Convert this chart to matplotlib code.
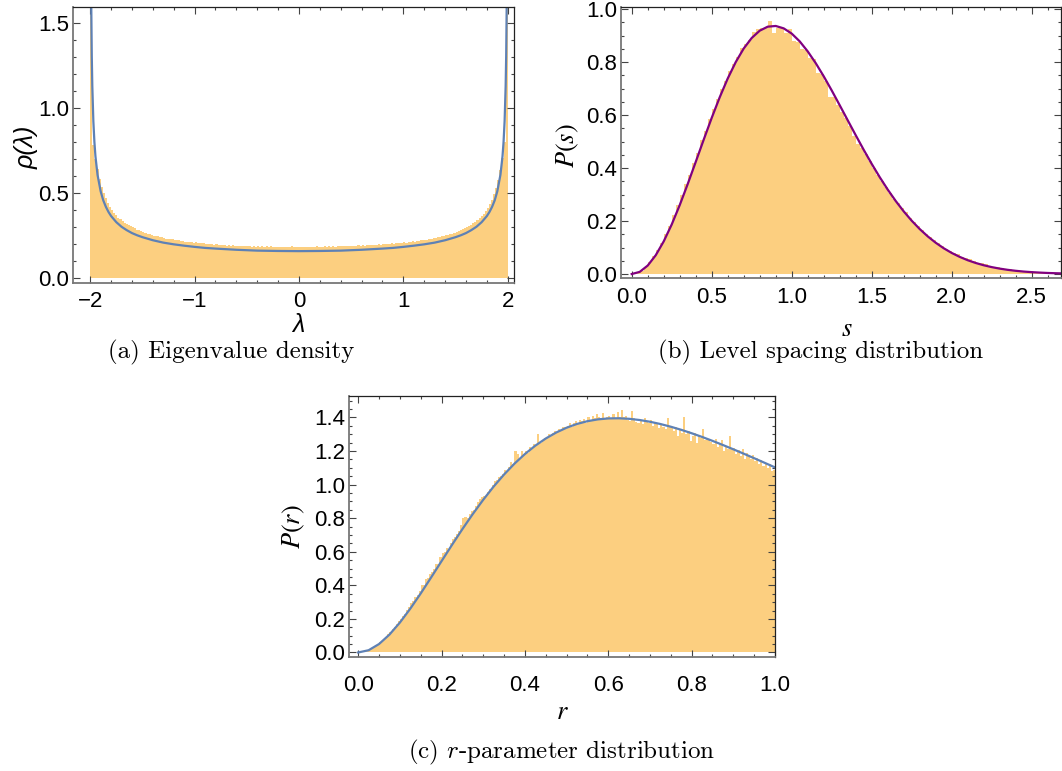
import numpy as np
import matplotlib.pyplot as plt
from matplotlib.ticker import MultipleLocator

plt.rcParams['font.family'] = ['Liberation Sans Narrow', 'Liberation Sans', 'DejaVu Sans']

# ── (a) eigenvalue density: histogram (bins of 0.02 on [-2, 2]) + theory curve
a_hist = [
    1.70, 0.78, 0.70, 0.64, 0.58, 0.535, 0.50, 0.468, 0.440, 0.420,
    0.400, 0.382, 0.372, 0.355, 0.350, 0.336, 0.325, 0.320, 0.310, 0.305,
    0.298, 0.292, 0.285, 0.282, 0.275, 0.272, 0.268, 0.262, 0.258, 0.256,
    0.250, 0.248, 0.246, 0.240, 0.242, 0.236, 0.233, 0.232, 0.228, 0.229,
    0.225, 0.222, 0.224, 0.218, 0.219, 0.215, 0.214, 0.212, 0.213, 0.209,
    0.210, 0.206, 0.208, 0.204, 0.205, 0.201, 0.203, 0.199, 0.200, 0.197,
    0.199, 0.195, 0.197, 0.194, 0.196, 0.192, 0.194, 0.191, 0.193, 0.190,
    0.192, 0.189, 0.191, 0.188, 0.190, 0.187, 0.190, 0.186, 0.189, 0.186,
    0.188, 0.185, 0.188, 0.185, 0.187, 0.184, 0.187, 0.184, 0.186, 0.184,
    0.186, 0.183, 0.186, 0.183, 0.185, 0.183, 0.190, 0.184, 0.186, 0.183,
    0.185, 0.183, 0.186, 0.184, 0.185, 0.183, 0.186, 0.184, 0.187, 0.184,
    0.186, 0.185, 0.187, 0.185, 0.188, 0.185, 0.188, 0.186, 0.189, 0.187,
    0.189, 0.187, 0.190, 0.188, 0.191, 0.189, 0.192, 0.190, 0.193, 0.191,
    0.194, 0.192, 0.195, 0.193, 0.196, 0.194, 0.197, 0.196, 0.199, 0.197,
    0.200, 0.199, 0.202, 0.200, 0.204, 0.202, 0.206, 0.205, 0.208, 0.207,
    0.210, 0.209, 0.213, 0.212, 0.216, 0.215, 0.219, 0.218, 0.223, 0.222,
    0.227, 0.226, 0.231, 0.230, 0.236, 0.235, 0.241, 0.240, 0.246, 0.247,
    0.252, 0.255, 0.259, 0.262, 0.268, 0.272, 0.278, 0.281, 0.288, 0.293,
    0.300, 0.306, 0.315, 0.322, 0.332, 0.342, 0.352, 0.365, 0.378, 0.395,
    0.412, 0.435, 0.460, 0.492, 0.528, 0.575, 0.635, 0.705, 0.800, 1.700,
]
lam_curve = [-1.999, -1.998, -1.995, -1.99, -1.985, -1.98, -1.97, -1.96, -1.95,
             -1.93, -1.9, -1.875, -1.85, -1.825, -1.8, -1.75, -1.7, -1.65, -1.6,
             -1.55, -1.5, -1.4, -1.3, -1.2, -1.1, -1.0, -0.9, -0.8, -0.6, -0.4,
             -0.2, 0.0, 0.2, 0.4, 0.6, 0.8, 0.9, 1.0, 1.1, 1.2, 1.3, 1.4, 1.5,
             1.55, 1.6, 1.65, 1.7, 1.75, 1.8, 1.825, 1.85, 1.875, 1.9, 1.93,
             1.95, 1.96, 1.97, 1.98, 1.985, 1.99, 1.995, 1.998, 1.999]
rho_curve = [5.03, 3.56, 2.252, 1.594, 1.302, 1.128, 0.922, 0.800, 0.716,
             0.607, 0.510, 0.457, 0.419, 0.389, 0.365, 0.329, 0.302, 0.282, 0.265,
             0.252, 0.241, 0.223, 0.209, 0.199, 0.191, 0.184, 0.178, 0.174, 0.167, 0.162,
             0.160, 0.159, 0.160, 0.162, 0.167, 0.174, 0.178, 0.184, 0.191, 0.199,
             0.209, 0.223, 0.241,
             0.252, 0.265, 0.282, 0.302, 0.329, 0.365, 0.389, 0.419, 0.457, 0.510, 0.607,
             0.716, 0.800, 0.922, 1.128, 1.302, 1.594, 2.252, 3.56, 5.03]

# ── (b) level spacing: histogram (bins of 0.025 on [0, 2.7]) + Wigner curve
b_hist = [
    0.001, 0.004, 0.012, 0.027, 0.045, 0.068, 0.092, 0.118, 0.150, 0.182,
    0.222, 0.260, 0.297, 0.338, 0.372, 0.421, 0.458, 0.505, 0.540, 0.585,
    0.622, 0.660, 0.700, 0.728, 0.765, 0.792, 0.820, 0.852, 0.868, 0.882,
    0.912, 0.925, 0.928, 0.930, 0.955, 0.910, 0.928, 0.928, 0.910, 0.925,
    0.878, 0.876, 0.848, 0.846, 0.815, 0.812, 0.758, 0.756, 0.727, 0.670,
    0.668, 0.638, 0.612, 0.590, 0.558, 0.520, 0.492, 0.475, 0.452, 0.428,
    0.400, 0.372, 0.350, 0.330, 0.306, 0.285, 0.268, 0.250, 0.233, 0.212,
    0.196, 0.180, 0.168, 0.150, 0.140, 0.128, 0.116, 0.104, 0.095, 0.088,
    0.080, 0.075, 0.066, 0.060, 0.055, 0.048, 0.043, 0.040, 0.036, 0.031,
    0.028, 0.025, 0.022, 0.020, 0.018, 0.015, 0.013, 0.012, 0.011, 0.009,
    0.008, 0.007, 0.006, 0.005, 0.005, 0.004, 0.004, 0.003,
]
s_curve = [0.0, 0.05, 0.1, 0.15, 0.2, 0.25, 0.3, 0.35, 0.4, 0.45, 0.5, 0.55,
           0.6, 0.65, 0.7, 0.75, 0.8, 0.85, 0.9, 0.95, 1.0, 1.05, 1.1, 1.15,
           1.2, 1.25, 1.3, 1.35, 1.4, 1.45, 1.5, 1.55, 1.6, 1.65, 1.7, 1.75,
           1.8, 1.85, 1.9, 1.95, 2.0, 2.05, 2.1, 2.15, 2.2, 2.25, 2.3, 2.35,
           2.4, 2.45, 2.5, 2.55, 2.6, 2.65, 2.7]
ps_curve = [0.0, 0.0081, 0.0320, 0.0709, 0.1233, 0.1871, 0.2602, 0.3398,
            0.4232, 0.5074, 0.5896, 0.6673, 0.7381, 0.8000, 0.8514, 0.8911,
            0.9186, 0.9337, 0.9364, 0.9273, 0.9076, 0.8782, 0.8404, 0.7961,
            0.7464, 0.6930, 0.6371, 0.5804, 0.5240, 0.4688, 0.4158, 0.3656,
            0.3188, 0.2757, 0.2365, 0.2012, 0.1698, 0.1422, 0.1181, 0.0973,
            0.0796, 0.0647, 0.0521, 0.0417, 0.0331, 0.0261, 0.0204, 0.0158,
            0.0122, 0.0093, 0.0071, 0.0054, 0.0040, 0.0030, 0.0022]

# ── (c) r-parameter: histogram (bins of 0.005 on [0, 1]) + theory curve
c_hist = [
    0.000, 0.002, 0.004, 0.008, 0.012, 0.018, 0.025, 0.033, 0.042, 0.052,
    0.060, 0.070, 0.083, 0.093, 0.108, 0.121, 0.138, 0.150, 0.170, 0.185,
    0.198, 0.216, 0.232, 0.255, 0.270, 0.292, 0.306, 0.330, 0.345, 0.365,
    0.400, 0.402, 0.438, 0.445, 0.470, 0.478, 0.500, 0.525, 0.530, 0.568,
    0.592, 0.598, 0.620, 0.612, 0.652, 0.675, 0.690, 0.708, 0.722, 0.760,
    0.800, 0.805, 0.800, 0.822, 0.840, 0.848, 0.875, 0.895, 0.915, 0.925,
    0.930, 0.935, 0.958, 0.975, 1.000, 1.020, 1.025, 1.048, 1.050, 1.065,
    1.085, 1.080, 1.105, 1.135, 1.120, 1.200, 1.185, 1.160, 1.200, 1.185,
    1.200, 1.190, 1.225, 1.212, 1.240, 1.235, 1.300, 1.250, 1.262, 1.275,
    1.275, 1.300, 1.290, 1.310, 1.320, 1.305, 1.330, 1.325, 1.345, 1.330,
    1.350, 1.365, 1.345, 1.370, 1.380, 1.360, 1.385, 1.378, 1.390, 1.370,
    1.400, 1.385, 1.410, 1.395, 1.420, 1.400, 1.398, 1.425, 1.390, 1.405,
    1.410, 1.395, 1.420, 1.390, 1.430, 1.405, 1.445, 1.400, 1.410, 1.385,
    1.380, 1.440, 1.395, 1.375, 1.370, 1.385, 1.360, 1.395, 1.380, 1.365,
    1.385, 1.350, 1.365, 1.370, 1.340, 1.355, 1.345, 1.330, 1.395, 1.345,
    1.335, 1.320, 1.345, 1.290, 1.330, 1.310, 1.405, 1.300, 1.320, 1.260,
    1.290, 1.310, 1.250, 1.295, 1.280, 1.330, 1.265, 1.280, 1.270, 1.255,
    1.240, 1.270, 1.225, 1.250, 1.265, 1.200, 1.230, 1.215, 1.290, 1.210,
    1.220, 1.180, 1.205, 1.170, 1.215, 1.155, 1.190, 1.165, 1.150, 1.175,
    1.140, 1.160, 1.120, 1.145, 1.110, 1.130, 1.100, 1.120, 1.080, 1.090,
]
r_curve = [0.0, 0.025, 0.05, 0.075, 0.1, 0.125, 0.15, 0.175, 0.2, 0.225, 0.25,
           0.275, 0.3, 0.325, 0.35, 0.375, 0.4, 0.425, 0.45, 0.475, 0.5, 0.525,
           0.55, 0.575, 0.6, 0.625, 0.65, 0.675, 0.7, 0.725, 0.75, 0.775, 0.8,
           0.825, 0.85, 0.875, 0.9, 0.925, 0.95, 0.975, 1.0]
pr_curve = [0.0, 0.0133, 0.0502, 0.1064, 0.1780, 0.2609, 0.3515, 0.4469,
            0.5440, 0.6406, 0.7348, 0.8249, 0.9097, 0.9885, 1.0603, 1.1250,
            1.1823, 1.2322, 1.2748, 1.3103, 1.3391, 1.3615, 1.3779, 1.3887,
            1.3944, 1.3953, 1.3921, 1.3850, 1.3746, 1.3611, 1.3450, 1.3266,
            1.3062, 1.2842, 1.2607, 1.2361, 1.2105, 1.1842, 1.1574, 1.1301,
            1.1026]

HIST = '#FCCF80'
BLUE = '#5E81B5'
PURPLE = '#800080'

W, H = 1062, 771
fig = plt.figure(figsize=(W / 100, H / 100), dpi=100)


def box(l, t, r, b):
    return [l / W, 1 - b / H, (r - l) / W, (b - t) / H]


def frame(ax, xmaj, xmin, ymaj, ymin, fmt_x, fmt_y, xpad):
    for side in ['left', 'bottom']:
        ax.spines[side].set_color('#777777')
        ax.spines[side].set_linewidth(1.3)
    for side in ['top', 'right']:
        ax.spines[side].set_color('#222222')
        ax.spines[side].set_linewidth(0.9)
    ax.xaxis.set_major_locator(MultipleLocator(xmaj))
    ax.xaxis.set_minor_locator(MultipleLocator(xmin))
    ax.yaxis.set_major_locator(MultipleLocator(ymaj))
    ax.yaxis.set_minor_locator(MultipleLocator(ymin))
    ax.xaxis.set_major_formatter(fmt_x)
    ax.yaxis.set_major_formatter(fmt_y)
    ax.tick_params(which='both', direction='in', top=True, right=True,
                   color='#444444', width=0.8)
    ax.tick_params(which='major', length=5, labelsize=16)
    ax.tick_params(which='minor', length=2.5)
    ax.tick_params(axis='y', which='major', pad=3)
    ax.tick_params(axis='x', which='major', pad=xpad)


def minus_fmt(v, pos):
    return f'{v:.0f}'.replace('-', '\u2212')


# (a)
ax1 = fig.add_axes(box(73, 7, 514, 283))
edges_a = np.linspace(-2, 2, len(a_hist) + 1)
ax1.stairs(a_hist, edges_a, fill=True, color=HIST, linewidth=0)
ax1.plot(lam_curve, rho_curve, color=BLUE, lw=1.6)
ax1.set_xlim(-2.165, 2.06)
ax1.set_ylim(-0.028, 1.592)
frame(ax1, 1, 0.2, 0.5, 0.1, minus_fmt, lambda v, p: f'{v:.1f}', 6)
ax1.set_xlabel('λ', fontsize=18, style='italic', family='Liberation Sans')
ax1.xaxis.set_label_coords(0.51, -0.152)
ax1.xaxis.label.set_va('center')
ax1.set_ylabel('ρ(λ)', fontsize=18, style='italic', family='Liberation Sans')
ax1.yaxis.set_label_coords(-0.105, 0.49)
ax1.yaxis.label.set_va('center')

# (b)
ax2 = fig.add_axes(box(621, 7, 1061, 278))
edges_b = np.arange(len(b_hist) + 1) * 0.025
ax2.stairs(b_hist, edges_b, fill=True, color=HIST, linewidth=0)
ax2.plot(s_curve, ps_curve, color=PURPLE, lw=1.6)
ax2.set_xlim(-0.067, 2.683)
ax2.set_ylim(-0.015, 1.008)
frame(ax2, 0.5, 0.1, 0.2, 0.05, lambda v, p: f'{v:.1f}', lambda v, p: f'{v:.1f}', 6.5)
ax2.set_xlabel('$s$', fontsize=19, math_fontfamily='stix')
ax2.xaxis.set_label_coords(0.513, -0.19)
ax2.xaxis.label.set_va('center')
ax2.set_ylabel('$P(s)$', fontsize=19, math_fontfamily='stix')
ax2.yaxis.set_label_coords(-0.12, 0.49)
ax2.yaxis.label.set_va('center')

# (c)
ax3 = fig.add_axes(box(349, 396, 775, 657))
edges_c = np.linspace(0, 1, len(c_hist) + 1)
ax3.stairs(c_hist, edges_c, fill=True, color=HIST, linewidth=0)
ax3.plot(r_curve, pr_curve, color=BLUE, lw=1.6)
ax3.set_xlim(-0.022, 1.0)
ax3.set_ylim(-0.027, 1.528)
frame(ax3, 0.2, 0.05, 0.2, 0.05, lambda v, p: f'{v:.1f}', lambda v, p: f'{v:.1f}', 13)
ax3.set_xlabel('$r$', fontsize=19, math_fontfamily='stix')
ax3.xaxis.set_label_coords(0.5, -0.21)
ax3.xaxis.label.set_va('center')
ax3.set_ylabel('$P(r)$', fontsize=19, math_fontfamily='stix')
ax3.yaxis.set_label_coords(-0.13, 0.5)
ax3.yaxis.label.set_va('center')

# captions
cap = dict(fontsize=18, family='cmr10', math_fontfamily='cm', ha='center', va='center')
fig.text(231 / W, 1 - 352 / H, '(a) Eigenvalue density', **cap)
fig.text(821 / W, 1 - 352 / H, '(b) Level spacing distribution', **cap)
fig.text(562 / W, 1 - 752 / H, '(c) $r$-parameter distribution', **cap)

fig.savefig('out.png', dpi=100)
